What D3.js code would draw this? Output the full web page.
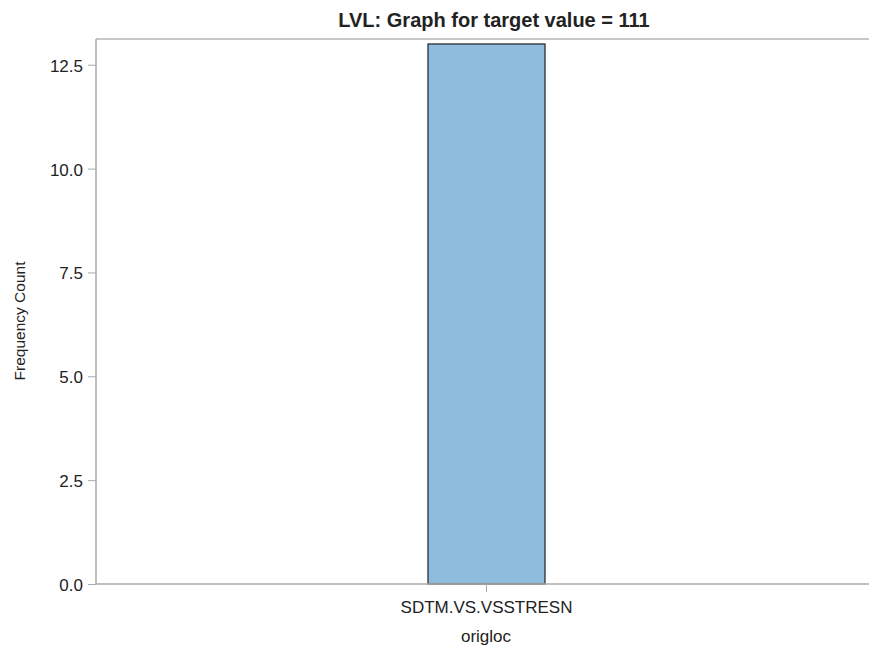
<!DOCTYPE html>
<html><head><meta charset="utf-8">
<script src="https://cdn.jsdelivr.net/npm/d3@7"></script>
<style>body{margin:0;background:#fff}text{font-family:"Liberation Sans Narrow","Liberation Sans",Arial,sans-serif;fill:#222}</style>
</head><body>
<svg id="c" width="870" height="651"></svg>
<script>
const categories = ["SDTM.VS.VSSTRESN"];
const counts = [13];
const yTicks = [0, 2.5, 5, 7.5, 10, 12.5];
const titleText = "LVL: Graph for target value = 111";
const xLabel = "origloc";
const yLabel = "Frequency Count";

const svg = d3.select("#c");
const L = 96, R = 877, T = 39, B = 584;
const x = d3.scaleBand().domain(categories).range([L, R]).paddingInner(0).paddingOuter(0);
const bw = 117;
const y = d3.scaleLinear().domain([0, 13.12]).range([B, T]);

// frame top line
svg.append("line").attr("x1", L).attr("x2", 869).attr("y1", T).attr("y2", T)
  .attr("stroke", "#b4b4b4").attr("stroke-width", 1.5);

// bars
svg.selectAll("rect.bar").data(categories).enter().append("rect")
  .attr("x", d => x(d) + x.bandwidth()/2 - bw/2)
  .attr("width", bw)
  .attr("y", (d,i) => y(counts[i]))
  .attr("height", (d,i) => B - y(counts[i]))
  .attr("fill", "#8fbbdc").attr("stroke", "#2b2f33").attr("stroke-width", 1.3);

// y axis
const ya = svg.append("g").attr("transform", `translate(${L},0)`)
  .call(d3.axisLeft(y).tickValues(yTicks).tickFormat(d3.format(".1f")).tickSize(8).tickPadding(5));
ya.select(".domain").attr("stroke", "#aaa").attr("stroke-width", 1.5).attr("d", `M0,${B}V${T}`);
ya.selectAll(".tick line").attr("stroke", "#aaa");
ya.selectAll("text").style("font-size", "17px").attr("fill", "#222").attr("dy", "0.38em");

// x axis
const xa = svg.append("g").attr("transform", `translate(0,${B})`)
  .call(d3.axisBottom(x).tickSize(8).tickPadding(9));
xa.select(".domain").attr("stroke", "#aaa").attr("stroke-width", 1.5).attr("d", `M${L},0H869`);
xa.selectAll(".tick line").attr("stroke", "#aaa");
xa.selectAll("text").style("font-size", "17px").attr("fill", "#222");

// title
svg.append("text").attr("x", 494).attr("y", 27).attr("text-anchor", "middle")
  .style("font-size", "20px").style("font-weight", "bold").text(titleText);
svg.append("text").attr("x", 486).attr("y", 642).attr("text-anchor", "middle")
  .style("font-size", "17px").text(xLabel);
svg.append("text").attr("transform", "translate(25,321) rotate(-90)").attr("text-anchor", "middle")
  .style("font-size", "15.5px").text(yLabel);
</script>
</body></html>
